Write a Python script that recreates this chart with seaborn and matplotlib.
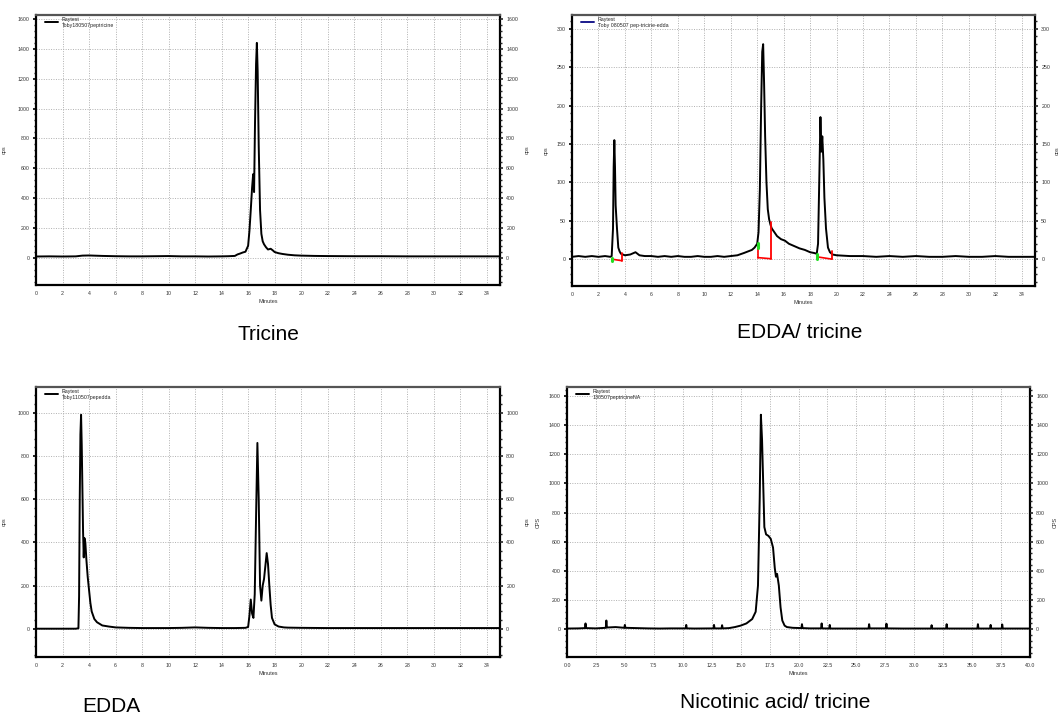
import matplotlib
matplotlib.use("Agg")
import matplotlib.pyplot as plt
from matplotlib.lines import Line2D
from matplotlib.ticker import AutoMinorLocator, FormatStrFormatter
import seaborn as sns

sns.set_style("white")
plt.rcParams['font.family'] = ['Liberation Sans', 'DejaVu Sans']

# ---------------- data ----------------
# Panel 1: Tricine
t_tricine = [0, 1, 2, 3, 3.5, 4, 5, 6, 7, 8, 9, 10, 11, 12, 13, 14, 14.5, 15, 15.2, 15.4,
             15.6, 15.8, 16.0, 16.1, 16.2, 16.3, 16.38, 16.45, 16.52, 16.6, 16.66, 16.72,
             16.8, 16.9, 17.0, 17.1, 17.2, 17.35, 17.5, 17.7, 17.85, 18.0, 18.3, 18.6, 19,
             19.5, 20, 21, 22, 24, 26, 28, 30, 32, 35]
c_tricine = [8, 9, 8, 9, 14, 15, 12, 10, 9, 9, 10, 11, 9, 9, 8, 9, 10, 12, 22, 28,
             35, 40, 80, 180, 320, 470, 560, 440, 900, 1300, 1440, 1250,
             750, 320, 160, 110, 90, 70, 55, 60, 50, 38, 30, 25, 20,
             16, 14, 12, 11, 10, 10, 9, 9, 9, 9]

# Panel 2: EDDA/ tricine
t_mix = [0, 0.5, 1, 1.5, 2, 2.5, 2.9, 3.0, 3.1, 3.15, 3.2, 3.25, 3.3, 3.4, 3.5, 3.6, 3.7,
         4.0, 4.4, 4.8, 5.1, 5.5, 6, 6.5, 7, 7.5, 8, 8.5, 9, 9.5, 10, 10.5, 11, 11.5, 12,
         12.5, 13, 13.3, 13.6, 13.8, 14.0, 14.1, 14.2, 14.3, 14.38, 14.45, 14.52, 14.6,
         14.7, 14.8, 14.9, 15.0, 15.1, 15.3, 15.5, 15.8, 16.1, 16.4, 16.8, 17.2, 17.6,
         18.0, 18.3, 18.5, 18.6, 18.7, 18.78, 18.85, 18.92, 19.0, 19.08, 19.2, 19.35,
         19.5, 19.7, 20, 21, 22, 23, 24, 25, 26, 27, 28, 29, 30, 31, 32, 33, 34, 35]
c_mix = [3, 4, 3, 4, 3, 4, 3, 4, 40, 120, 155, 120, 70, 40, 15, 10, 7,
         5, 6, 9, 5, 4, 4, 3, 4, 3, 4, 3, 3, 4, 3, 3, 4, 3, 4,
         5, 8, 10, 12, 15, 20, 35, 90, 200, 270, 280, 230, 160,
         100, 65, 52, 45, 40, 35, 30, 26, 24, 20, 17, 14, 12,
         9, 8, 7, 20, 110, 185, 140, 160, 130, 80, 40, 15,
         9, 6, 5, 4, 4, 3, 4, 3, 4, 3, 3, 4, 3, 3, 4, 3, 3, 3]

# integration marks (red baselines / drop lines, green starts)
int_start = [3.0, 14.05, 18.52]
int_end = [3.75, 15.05, 19.65]
int_start_level = [0, 2, 3]
int_end_level = [-2, 0.5, 0]
int_start_top = [0, 15, 0]
int_end_top = [8, 48, 10]
green_low = [-3, 14, 0]
green_high = [2, 21, 7]

# Panel 3: EDDA
t_edda = [0, 1, 2, 3, 3.2, 3.25, 3.3, 3.35, 3.4, 3.45, 3.5, 3.55, 3.6, 3.65, 3.72, 3.8,
          3.9, 4.0, 4.1, 4.2, 4.4, 4.6, 5.0, 5.5, 6, 7, 8, 9, 10, 11, 12, 13, 14, 15,
          15.8, 16.0, 16.1, 16.2, 16.3, 16.4, 16.5, 16.6, 16.7, 16.8, 16.9, 17.0, 17.1,
          17.2, 17.3, 17.4, 17.5, 17.6, 17.7, 17.8, 18.0, 18.3, 18.7, 19, 20, 22, 24,
          26, 28, 30, 32, 35]
c_edda = [0, 0, 0, 0, 2, 150, 600, 900, 990, 850, 650, 450, 330, 420, 400, 320,
          240, 180, 120, 80, 45, 30, 15, 10, 6, 4, 3, 3, 3, 4, 6, 4, 3, 3,
          4, 8, 60, 135, 70, 50, 160, 520, 860, 600, 200, 130, 200,
          230, 290, 350, 300, 200, 110, 50, 20, 10, 6, 5, 4, 3, 3,
          3, 3, 3, 3, 3]

# Panel 4: Nicotinic acid/ tricine
t_na = [0, 1.0, 1.55, 1.6, 1.65, 2.5, 3.35, 3.4, 3.45, 4.2, 4.95, 5.0, 5.05, 6, 7, 8, 9,
        10.25, 10.3, 10.35, 11, 12.65, 12.7, 12.75, 13.35, 13.4, 13.45, 14, 14.5, 15,
        15.5, 16.0, 16.3, 16.5, 16.65, 16.75, 16.85, 16.95, 17.05, 17.2, 17.4, 17.6,
        17.8, 17.95, 18.05, 18.15, 18.3, 18.45, 18.6, 18.8, 19.0, 19.5, 20.25, 20.3,
        20.35, 21, 21.95, 22.0, 22.05, 22.65, 22.7, 22.75, 24, 26.05, 26.1, 26.15,
        27.55, 27.6, 27.65, 29, 31.45, 31.5, 31.55, 32.75, 32.8, 32.85, 34, 35.45,
        35.5, 35.55, 36.55, 36.6, 36.65, 37.55, 37.6, 37.65, 39, 40]
c_na = [5, 6, 8, 40, 8, 6, 10, 60, 12, 15, 10, 30, 10, 8, 6, 5, 6,
        6, 30, 6, 5, 6, 30, 6, 6, 28, 6, 8, 15, 25,
        40, 70, 120, 300, 900, 1470, 1300, 1000, 700, 650, 640, 620,
        560, 420, 360, 380, 300, 150, 60, 25, 15, 10, 8, 35,
        8, 6, 6, 40, 6, 5, 30, 5, 5, 5, 35, 6,
        6, 38, 6, 5, 5, 28, 5, 5, 35, 5, 5, 5,
        35, 5, 5, 30, 5, 5, 33, 5, 5, 5]

legend_texts = ["Raytest\nToby180507peptricine",
                "Raytest\nToby 080507 pep-tricine-edda",
                "Raytest\nToby110507pepedda",
                "Raytest\n130507peptricineNA"]
titles = ["Tricine", "EDDA/ tricine", "EDDA", "Nicotinic acid/ tricine"]
ylabels = ["cps", "cps", "cps", "CPS"]

W, H = 1058, 722
fig = plt.figure(figsize=(W / 100, H / 100), dpi=100)


def make_axes(px_left, px_top, px_right, px_bottom):
    return fig.add_axes([px_left / W, 1 - px_bottom / H,
                         (px_right - px_left) / W, (px_bottom - px_top) / H])


panels = [
    dict(box=(36, 15, 500, 285), t=t_tricine, c=c_tricine, xlim=(0, 35), xt=list(range(0, 36, 2)),
         ylim=(-183, 1627), yt=list(range(0, 1601, 200)), col="black", fmt="%d"),
    dict(box=(572, 15, 1035, 286), t=t_mix, c=c_mix, xlim=(0, 35), xt=list(range(0, 36, 2)),
         ylim=(-35, 318), yt=list(range(0, 301, 50)), col="#1a1a8c", fmt="%d"),
    dict(box=(36, 387, 500, 657), t=t_edda, c=c_edda, xlim=(0, 35), xt=list(range(0, 36, 2)),
         ylim=(-131, 1119), yt=list(range(0, 1001, 200)), col="black", fmt="%d"),
    dict(box=(567, 387, 1030, 657), t=t_na, c=c_na, xlim=(0, 40), xt=[i * 2.5 for i in range(17)],
         ylim=(-190, 1660), yt=list(range(0, 1601, 200)), col="black", fmt="%.1f"),
]

title_pos = [(268, 335), (800, 333), (111, 706), (775, 703)]
left_pad = [8, 6, 8, 6]
right_pad = [5, 3, 5, 3]

for i, p in enumerate(panels):
    ax = make_axes(*p["box"])
    sns.lineplot(x=p["t"], y=p["c"], ax=ax, color="black", linewidth=1.4,
                 estimator=None, sort=False)
    ax.set_xlim(*p["xlim"])
    ax.set_ylim(*p["ylim"])
    ax.set_xticks(p["xt"])
    ax.set_yticks(p["yt"])
    ax.xaxis.set_major_formatter(FormatStrFormatter(p["fmt"]))
    ax.xaxis.set_minor_locator(AutoMinorLocator(5))
    ax.yaxis.set_minor_locator(AutoMinorLocator(5))
    ax.grid(True, which="major", color="#b0b0b0", linestyle=(0, (1, 1.5)), linewidth=0.7)
    ax.tick_params(axis="both", which="major", direction="out", length=2.5, width=1.2,
                   labelsize=3.8, pad=2, colors="black")
    ax.tick_params(axis="both", which="minor", direction="out", length=1.5, width=1.0)
    ax.tick_params(axis="x", labelcolor="#333333")
    ax.tick_params(axis="y", labelcolor="#333333")
    ax.set_xlabel("Minutes", fontsize=4, color="#333333", labelpad=2)
    ax.set_ylabel(ylabels[i], fontsize=4, color="#333333", labelpad=left_pad[i])
    for s in ["left", "bottom", "right"]:
        ax.spines[s].set_color("black")
        ax.spines[s].set_linewidth(1.6)
    ax.spines["top"].set_color("#555555")
    ax.spines["top"].set_linewidth(1.6)

    ax2 = ax.twinx()
    ax2.set_ylim(*p["ylim"])
    ax2.set_yticks(p["yt"])
    ax2.yaxis.set_minor_locator(AutoMinorLocator(5))
    ax2.tick_params(axis="y", which="major", direction="out", length=2.5, width=1.2,
                    labelsize=3.8, pad=2, labelcolor="#333333")
    ax2.tick_params(axis="y", which="minor", direction="out", length=1.5, width=1.0)
    ax2.set_ylabel(ylabels[i], fontsize=4, color="#333333", labelpad=right_pad[i])
    for s in ax2.spines.values():
        s.set_visible(False)

    handle = Line2D([], [], color=p["col"], linewidth=1.4)
    ax.legend(handles=[handle], labels=[legend_texts[i]], loc="upper left",
              bbox_to_anchor=(0.012, 1.005), fontsize=3.8, frameon=False,
              handlelength=2.6, handletextpad=0.6, borderaxespad=0.2)

    if i == 1:
        for k in range(len(int_start)):
            ax.plot([int_start[k], int_end[k]], [int_start_level[k], int_end_level[k]],
                    color="red", linewidth=1.2)
            ax.plot([int_start[k], int_start[k]], [int_start_top[k], int_start_level[k]],
                    color="red", linewidth=1.2)
            ax.plot([int_end[k], int_end[k]], [int_end_level[k], int_end_top[k]],
                    color="red", linewidth=1.3)
            ax.plot([int_start[k], int_start[k]], [green_low[k], green_high[k]],
                    color="#22dd22", linewidth=2.2)

    fig.text(title_pos[i][0] / W, 1 - title_pos[i][1] / H, titles[i],
             fontsize=15, ha="center", va="center", color="black")

fig.savefig("out.png", dpi=100)
